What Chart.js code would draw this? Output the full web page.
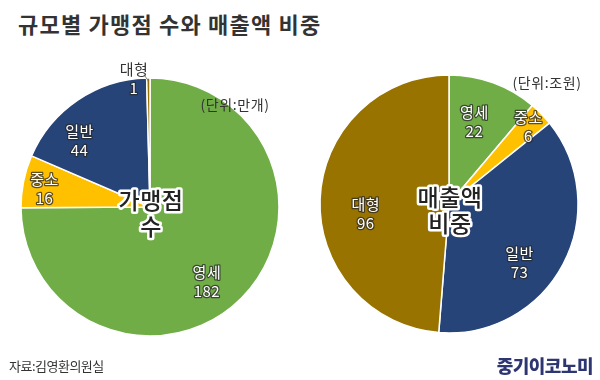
<!DOCTYPE html>
<html><head><meta charset="utf-8">
<script src="https://cdn.jsdelivr.net/npm/chart.js@4/dist/chart.umd.min.js"></script>
<style>
html,body{margin:0;padding:0;background:#fff;}
#wrap{position:relative;width:600px;height:380px;overflow:hidden;font-family:"Noto Sans CJK KR","Noto Sans",sans-serif;}
canvas{position:absolute;}
#title{position:absolute;left:18px;top:8px;font-size:22px;font-weight:700;color:#333;letter-spacing:1.2px;line-height:30px;}
#src{position:absolute;left:9px;top:356px;font-size:13px;color:#333;line-height:20px;letter-spacing:-0.5px;}
#logo{position:absolute;right:7px;top:353px;font-size:18px;font-weight:900;color:#2d3670;line-height:24px;letter-spacing:-0.5px;}
</style></head>
<body><div id="wrap">
<div id="title">규모별 가맹점 수와 매출액 비중</div>
<canvas id="c1" width="300" height="300" style="left:0;top:57px"></canvas>
<canvas id="c2" width="300" height="300" style="left:299px;top:54px"></canvas>
<div id="src">자료:김영환의원실</div>
<div id="logo">중기이코노미</div>
</div>
<script>
const categories = ['영세', '중소', '일반', '대형'];
const storeCounts = [182, 16, 44, 1];
const salesAmounts = [22, 6, 73, 96];
const storeUnit = '(단위:만개)';
const salesUnit = '(단위:조원)';
const storeCenter = ['가맹점', '수'];
const salesCenter = ['매출액', '비중'];
const colors = ['#70ad47', '#ffc000', '#264478', '#997300'];

const FONT = '"Noto Sans CJK KR","Noto Sans",sans-serif';

function drawWhite(ctx, t, x, y) {
  ctx.lineJoin = 'round';
  ctx.lineWidth = 2.5;
  ctx.strokeStyle = 'rgba(40,40,40,0.75)';
  ctx.strokeText(t, x, y);
  ctx.fillStyle = '#fff';
  ctx.fillText(t, x, y);
}

function labelPlugin(layout, centerLines, unit, unitPos) {
  return {
    id: 'labels',
    afterDatasetsDraw(chart) {
      const ctx = chart.ctx;
      const meta = chart.getDatasetMeta(0);
      const ds = chart.data.datasets[0];
      ctx.save();
      ctx.textAlign = 'center';
      ctx.textBaseline = 'middle';
      meta.data.forEach((arc, i) => {
        const p = arc.getProps(['x','y','startAngle','endAngle','outerRadius'], true);
        const L = layout[i];
        const mid = (p.startAngle + p.endAngle) / 2 + L.a * Math.PI / 180;
        const d = p.outerRadius * L.f;
        const x = p.x + Math.cos(mid) * d;
        const y = p.y + Math.sin(mid) * d;
        const lines = [chart.data.labels[i], String(ds.data[i])];
        ctx.font = '400 15px ' + FONT;
        ctx.letterSpacing = '0.5px';
        if (L.outside) {
          const m = (p.startAngle + p.endAngle) / 2;
          ctx.strokeStyle = '#666';
          ctx.lineWidth = 0.8;
          ctx.beginPath();
          ctx.moveTo(x + 11, y - 3);
          ctx.lineTo(p.x + Math.cos(m) * (p.outerRadius - 3), p.y + Math.sin(m) * (p.outerRadius - 3));
          ctx.stroke();
          ctx.fillStyle = '#333';
          ctx.fillText(lines[0], x, y - 9.5);
          drawWhite(ctx, lines[1], x, y + 9.5);
        } else {
          lines.forEach((t, k) => drawWhite(ctx, t, x, y + (k - 0.5) * 19));
        }
      });
      // center text
      const a0 = meta.data[0];
      const cx = a0.x, cy = a0.y;
      ctx.font = '500 23px ' + FONT;
      ctx.letterSpacing = '0.5px';
      centerLines.forEach((t, k) => {
        const ty = cy - 7 + k * 26;
        ctx.lineJoin = 'round';
        ctx.lineWidth = 5;
        ctx.strokeStyle = '#fff';
        ctx.strokeText(t, cx + 1, ty);
        ctx.fillStyle = '#222';
        ctx.fillText(t, cx + 1, ty);
      });
      // unit
      ctx.font = '400 14px ' + FONT;
      ctx.letterSpacing = '0.6px';
      ctx.fillStyle = '#333';
      ctx.fillText(unit, cx + unitPos[0], cy + unitPos[1]);
      ctx.restore();
    }
  };
}

function makePie(id, values, layout, centerLines, unit, unitPos) {
  return new Chart(document.getElementById(id), {
    type: 'pie',
    data: {
      labels: categories,
      datasets: [{
        data: values,
        backgroundColor: colors,
        borderColor: '#ffffff',
        borderWidth: 1.5,
        radius: 129
      }]
    },
    options: {
      responsive: false,
      animation: false,
      layout: { padding: 0 },
      plugins: { legend: { display: false }, tooltip: { enabled: false } }
    },
    plugins: [labelPlugin(layout, centerLines, unit, unitPos)]
  });
}

makePie('c1', storeCounts,
  [{f:0.73,a:8},{f:0.83,a:-1.6},{f:0.75,a:-12.6},{f:1.0,a:-6.4,outside:true}],
  storeCenter, storeUnit, [85, -102]);
makePie('c2', salesAmounts,
  [{f:0.67,a:-3},{f:0.86,a:0},{f:0.71,a:11.7},{f:0.65,a:-9.3}],
  salesCenter, salesUnit, [98, -121]);
</script>
</body></html>
